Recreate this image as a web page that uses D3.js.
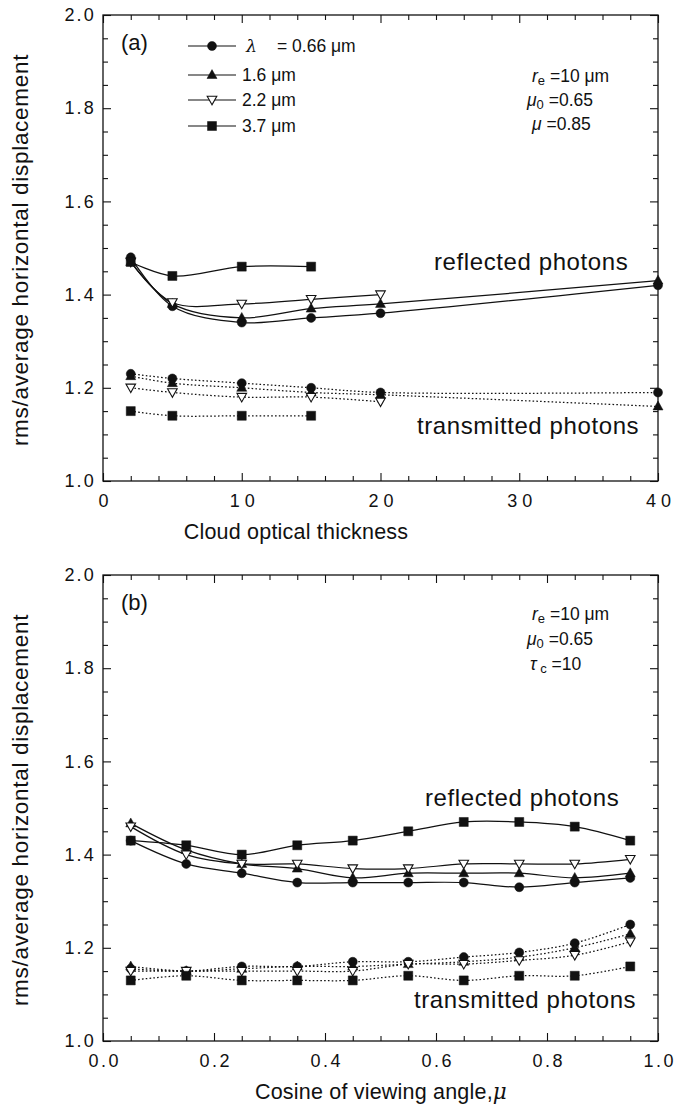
<!DOCTYPE html>
<html><head><meta charset="utf-8">
<script src="https://cdn.jsdelivr.net/npm/d3@7"></script>
<style>
body{margin:0;background:#fff;}
svg{display:block;}
text{font-family:"Liberation Sans",Arial,Helvetica,sans-serif;fill:#111;}
</style></head><body>
<svg id="c" width="676" height="1108"></svg>
<script>
// ---------- data ----------
const wavelengths = ["0.66", "1.6", "2.2", "3.7"];
const symbols = ["circle", "triangle", "nabla", "square"];

// panel (a): cloud optical thickness
const tauA = [2, 5, 10, 15, 20, 40];
const reflA_066 = [1.48, 1.375, 1.34, 1.35, 1.36, 1.42];
const reflA_16  = [1.47, 1.38, 1.35, 1.37, 1.38, 1.43];
const reflA_22  = [1.47, 1.383, 1.38, 1.39, 1.40, null];
const reflA_37  = [1.47, 1.44, 1.46, 1.46, null, null];
const transA_066 = [1.23, 1.22, 1.21, 1.20, 1.19, 1.19];
const transA_16  = [1.225, 1.21, 1.20, 1.19, 1.185, 1.16];
const transA_22  = [1.20, 1.19, 1.18, 1.18, 1.17, null];
const transA_37  = [1.15, 1.14, 1.14, 1.14, null, null];

// panel (b): cosine of viewing angle
const muB = [0.05, 0.15, 0.25, 0.35, 0.45, 0.55, 0.65, 0.75, 0.85, 0.95];
const reflB_066 = [1.43, 1.38, 1.36, 1.34, 1.34, 1.34, 1.34, 1.33, 1.34, 1.35];
const reflB_16  = [1.467, 1.41, 1.38, 1.37, 1.35, 1.36, 1.36, 1.36, 1.35, 1.36];
const reflB_22  = [1.46, 1.40, 1.38, 1.38, 1.37, 1.37, 1.38, 1.38, 1.38, 1.39];
const reflB_37  = [1.43, 1.42, 1.40, 1.42, 1.43, 1.45, 1.47, 1.47, 1.46, 1.43];
const transB_066 = [1.155, 1.15, 1.16, 1.16, 1.17, 1.17, 1.18, 1.19, 1.21, 1.25];
const transB_16  = [1.16, 1.15, 1.155, 1.16, 1.16, 1.165, 1.17, 1.18, 1.20, 1.23];
const transB_22  = [1.15, 1.15, 1.15, 1.15, 1.15, 1.165, 1.165, 1.173, 1.184, 1.213];
const transB_37  = [1.13, 1.14, 1.13, 1.13, 1.13, 1.14, 1.13, 1.14, 1.14, 1.16];

const yMajorTicks = [1.0, 1.2, 1.4, 1.6, 1.8, 2.0];
const xMajorTicksA = [0, 10, 20, 30, 40];
const xMajorTicksB = [0.0, 0.2, 0.4, 0.6, 0.8, 1.0];

// ---------- drawing ----------
const svg = d3.select("#c");
const L = 103, R = 658;

function markerPath(type) {
  switch (type) {
    case "circle": return d3.symbol(d3.symbolCircle, 64)();
    case "square": return "M-4.5,-4.5H4.5V4.5H-4.5Z";
    case "triangle": return "M0,-5.4L5,3.5L-5,3.5Z";
    case "nabla": return "M0,4.8L-4.8,-3.7L4.8,-3.7Z";
  }
}

function drawPanel(cfg) {
  const x = d3.scaleLinear().domain(cfg.xDomain).range([L, R]);
  const y = d3.scaleLinear().domain([1, 2]).range([cfg.bottom, cfg.top]);
  const g = svg.append("g");

  const yMinor = d3.range(1, 2.0001, 0.05).map(v => +v.toFixed(2)).filter(v => !yMajorTicks.some(m => Math.abs(m - v) < 1e-6));
  const xMinor = cfg.xMinor.filter(v => !cfg.xMajor.some(m => Math.abs(m - v) < 1e-6));

  const style = sel => { sel.select(".domain").remove(); sel.selectAll("line").attr("stroke", "#111").attr("stroke-width", 1.1); };

  // left
  g.append("g").attr("transform", `translate(${L},0)`)
    .call(d3.axisLeft(y).tickValues(yMajorTicks).tickSize(-8).tickPadding(7).tickFormat(d3.format(".1f")))
    .call(style)
    .call(s => s.selectAll("text").attr("font-size", 18).attr("letter-spacing", 2.2).attr("fill", "#111").attr("font-family", null));
  g.append("g").attr("transform", `translate(${L},0)`)
    .call(d3.axisLeft(y).tickValues(yMinor).tickSize(-5).tickFormat("")).call(style);
  // right
  g.append("g").attr("transform", `translate(${R},0)`)
    .call(d3.axisRight(y).tickValues(yMajorTicks).tickSize(-8).tickFormat("")).call(style);
  g.append("g").attr("transform", `translate(${R},0)`)
    .call(d3.axisRight(y).tickValues(yMinor).tickSize(-5).tickFormat("")).call(style);
  // bottom
  g.append("g").attr("transform", `translate(0,${cfg.bottom})`)
    .call(d3.axisBottom(x).tickValues(cfg.xMajor).tickSize(-8).tickPadding(13).tickFormat(cfg.xFormat))
    .call(style)
    .call(s => s.selectAll("text").attr("font-size", 18).attr("letter-spacing", cfg.xLs).attr("dx", cfg.xLs / 2).attr("fill", "#111").attr("font-family", null));
  g.append("g").attr("transform", `translate(0,${cfg.bottom})`)
    .call(d3.axisBottom(x).tickValues(xMinor).tickSize(-5).tickFormat("")).call(style);
  // top
  g.append("g").attr("transform", `translate(0,${cfg.top})`)
    .call(d3.axisTop(x).tickValues(cfg.xMajor).tickSize(-8).tickFormat("")).call(style);
  g.append("g").attr("transform", `translate(0,${cfg.top})`)
    .call(d3.axisTop(x).tickValues(xMinor).tickSize(-5).tickFormat("")).call(style);

  g.append("rect").attr("x", L).attr("y", cfg.top).attr("width", R - L).attr("height", cfg.bottom - cfg.top)
    .attr("fill", "none").attr("stroke", "#111").attr("stroke-width", 1.3);

  const line = d3.line().defined(d => d[1] != null)
    .x(d => x(d[0])).y(d => y(d[1])).curve(d3.curveCatmullRom.alpha(0.5));

  cfg.series.forEach(s => {
    const pts = cfg.xs.map((v, i) => [v, s.values[i]]).filter(d => d[1] != null);
    g.append("path").datum(pts).attr("d", line).attr("fill", "none")
      .attr("stroke", "#111").attr("stroke-width", 1.25)
      .attr("stroke-dasharray", s.dotted ? "1.6,2.2" : null);
  });
  cfg.series.forEach(s => {
    const pts = cfg.xs.map((v, i) => [v, s.values[i]]).filter(d => d[1] != null);
    g.selectAll(null).data(pts).enter().append("path")
      .attr("transform", d => `translate(${x(d[0])},${y(d[1])})`)
      .attr("d", markerPath(s.symbol))
      .attr("fill", s.symbol === "nabla" ? "#fff" : "#111")
      .attr("stroke", "#111").attr("stroke-width", s.symbol === "nabla" ? 1.1 : 0.5);
  });

  // y axis title
  g.append("text").attr("transform", `translate(${cfg.yTitleX},${(cfg.top + cfg.bottom) / 2 + 2}) rotate(-90)`)
    .attr("text-anchor", "middle").attr("font-size", 22.5).attr("letter-spacing", 0.7)
    .text("rms/average horizontal displacement");
  // x axis title
  const xt = g.append("text").attr("x", cfg.xTitleX).attr("y", cfg.bottom + 58)
    .attr("text-anchor", "middle").attr("font-size", 21.5).attr("letter-spacing", 0.2);
  xt.append("tspan").text(cfg.xTitle);
  if (cfg.xTitleMu) xt.append("tspan").attr("font-style", "italic").attr("font-family", "'DejaVu Serif',serif").text("\u03BC");

  // panel letter
  g.append("text").attr("x", L + 18).attr("y", cfg.top + 35).attr("font-size", 22).text(cfg.letter);

  // curve labels
  g.append("text").attr("x", cfg.reflLabel[0]).attr("y", cfg.reflLabel[1]).attr("font-size", 24)
    .attr("letter-spacing", 0.6).text("reflected photons");
  g.append("text").attr("x", cfg.transLabel[0]).attr("y", cfg.transLabel[1]).attr("font-size", 24)
    .attr("letter-spacing", 0.6).text("transmitted photons");

  // annotations
  cfg.notes.forEach((n, i) => {
    const t = g.append("text").attr("x", n.x).attr("y", cfg.noteY[i]).attr("font-size", 17.5);
    n.parts.forEach(p => {
      const ts = t.append("tspan").text(p.t);
      if (p.it) ts.attr("font-style", "italic");
      if (p.sub) ts.attr("font-size", 13).attr("dy", 3);
      if (p.up) ts.attr("dy", -3);
    });
  });
  return { x, y, g };
}

const seriesA = [
  { values: reflA_066, symbol: "circle" }, { values: reflA_16, symbol: "triangle" },
  { values: reflA_22, symbol: "nabla" }, { values: reflA_37, symbol: "square" },
  { values: transA_066, symbol: "circle", dotted: true }, { values: transA_16, symbol: "triangle", dotted: true },
  { values: transA_22, symbol: "nabla", dotted: true }, { values: transA_37, symbol: "square", dotted: true }
];
const seriesB = [
  { values: reflB_066, symbol: "circle" }, { values: reflB_16, symbol: "triangle" },
  { values: reflB_22, symbol: "nabla" }, { values: reflB_37, symbol: "square" },
  { values: transB_066, symbol: "circle", dotted: true }, { values: transB_16, symbol: "triangle", dotted: true },
  { values: transB_22, symbol: "nabla", dotted: true }, { values: transB_37, symbol: "square", dotted: true }
];

const pa = drawPanel({
  top: 15, bottom: 481, xDomain: [0, 40], xs: tauA, series: seriesA,
  xMajor: xMajorTicksA, xMinor: d3.range(0, 40.001, 2), xFormat: d3.format("d"), xLs: 5,
  yTitleX: 28, xTitleX: 296, xTitle: "Cloud optical thickness", letter: "(a)",
  reflLabel: [434, 270], transLabel: [417, 434],
  noteY: [82, 106, 130],
  notes: [
    { x: 532, parts: [{ t: "r", it: true }, { t: "e", sub: true }, { t: " =10 \u03BCm", up: true }] },
    { x: 527, parts: [{ t: "\u03BC", it: true }, { t: "0", sub: true }, { t: " =0.65", up: true }] },
    { x: 532, parts: [{ t: "\u03BC", it: true }, { t: "  =0.85" }] }
  ]
});

const pb = drawPanel({
  top: 575, bottom: 1041, xDomain: [0, 1], xs: muB, series: seriesB,
  xMajor: xMajorTicksB, xMinor: d3.range(0, 1.0001, 0.05).map(v => +v.toFixed(2)), xFormat: d3.format(".1f"), xLs: 2.5,
  yTitleX: 28, xTitleX: 381, xTitle: "Cosine of viewing angle,", xTitleMu: true, letter: "(b)",
  reflLabel: [425, 806], transLabel: [414, 1008],
  noteY: [620, 645, 670],
  notes: [
    { x: 532, parts: [{ t: "r", it: true }, { t: "e", sub: true }, { t: " =10 \u03BCm", up: true }] },
    { x: 527, parts: [{ t: "\u03BC", it: true }, { t: "0", sub: true }, { t: " =0.65", up: true }] },
    { x: 530, parts: [{ t: "\u03C4", it: true }, { t: " c", sub: true }, { t: " =10", up: true }] }
  ]
});

// legend (panel a)
const legY = [46, 75, 100, 126];
const lg = pa.g.append("g");
wavelengths.forEach((w, i) => {
  lg.append("line").attr("x1", 188).attr("x2", 236).attr("y1", legY[i]).attr("y2", legY[i])
    .attr("stroke", "#111").attr("stroke-width", 1.2);
  lg.append("path").attr("transform", `translate(212,${legY[i]})`).attr("d", markerPath(symbols[i]))
    .attr("fill", symbols[i] === "nabla" ? "#fff" : "#111").attr("stroke", "#111")
    .attr("stroke-width", symbols[i] === "nabla" ? 1.1 : 0.5);
  const t = lg.append("text").attr("y", legY[i] + 6).attr("font-size", 17.5);
  if (i === 0) {
    t.attr("x", 246);
    t.append("tspan").attr("font-style", "italic").attr("font-family", "'DejaVu Serif',serif").text("\u03BB");
    t.append("tspan").attr("x", 277).text("= " + w + " \u03BCm");
  } else {
    t.attr("x", 242).text(w + " \u03BCm");
  }
});
</script>
</body></html>
